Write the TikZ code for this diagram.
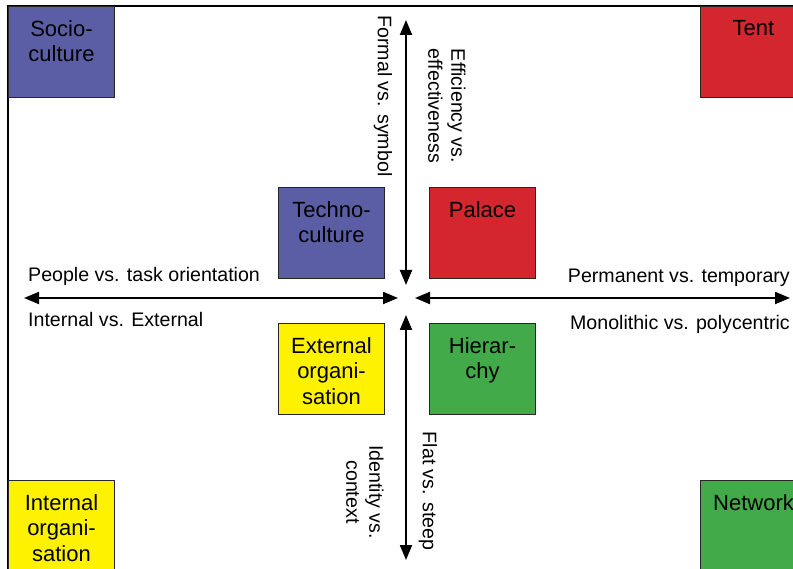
\documentclass[tikz,border=0pt]{standalone}
\usepackage{fontspec}
\setmainfont{Liberation Sans}
\usetikzlibrary{arrows.meta}
\usetikzlibrary{positioning}

\definecolor{cultblue}{RGB}{91,94,164}
\definecolor{tentred}{RGB}{212,38,46}
\definecolor{orgyellow}{RGB}{255,242,0}
\definecolor{netgreen}{RGB}{67,170,74}

\tikzset{
 quad/.style={draw=black!85, line width=1pt, minimum width=106pt, minimum height=91pt, inner sep=0, anchor=north west},
 quadtext/.style={inner sep=0, align=center, font=\fontsize{22}{25.5}\selectfont},
 axislabel/.style={inner sep=0, align=center, font=\fontsize{19.6}{23}\selectfont},
 axisarrow/.style={line width=2pt, {Triangle[length=15pt,width=12pt]}-{Triangle[length=15pt,width=12pt]}}
}

\begin{document}
\begin{tikzpicture}[x=1pt, y=-1pt]
\useasboundingbox (0,0) rectangle (793,569);
\clip (0,0) rectangle (793,569);
\draw[line width=1.3pt] (8,6) rectangle (806,571);
\foreach \nm/\x/\y/\col/\txt in {socio/8/6/cultblue/{Socio-\\culture}, tent/700/6/tentred/{Tent},
 techno/278/187/cultblue/{Techno-\\culture}, palace/429/187/tentred/{Palace},
 external/278/323/orgyellow/{External\\organi-\\sation}, hierarchy/429/323/netgreen/{Hierar-\\chy},
 internal/8/480/orgyellow/{Internal\\organi-\\sation}, network/700/480/netgreen/{Network}} {
 \node[quad, fill=\col] (\nm) at (\x,\y) {};
 \node[quadtext, below=14pt of \nm.north] {\txt};
}
\coordinate (west) at (24,298);
\coordinate (midw) at (398,298);
\coordinate (mide) at (415,298);
\coordinate (east) at (790,298);
\coordinate (north) at (406,20);
\coordinate (midn) at (406,285);
\coordinate (mids) at (406,315);
\coordinate (south) at (406,560);
\draw[axisarrow] (west) -- (midw);
\draw[axisarrow] (mide) -- (east);
\draw[axisarrow] (north) -- (midn);
\draw[axisarrow] (mids) -- (south);
\node[axislabel, anchor=base west] (people) at (28,282) {People vs. task orientation};
\node[axislabel, anchor=base west] (intext) at (28,327) {Internal vs. External};
\node[axislabel, anchor=base east] (perm) at (790,283) {Permanent vs. temporary};
\node[axislabel, anchor=base east] (mono) at (790,330) {Monolithic vs. polycentric};
\node[axislabel, rotate=-90] (formal) at (383,96) {Formal vs. symbol};
\node[axislabel, rotate=-90] (effic) at (447,106) {Efficiency vs.\\effectiveness};
\node[axislabel, rotate=-90] (ident) at (365,492) {Identity vs.\\context};
\node[axislabel, rotate=-90] (flat) at (428,491) {Flat vs. steep};
\end{tikzpicture}
\end{document}
